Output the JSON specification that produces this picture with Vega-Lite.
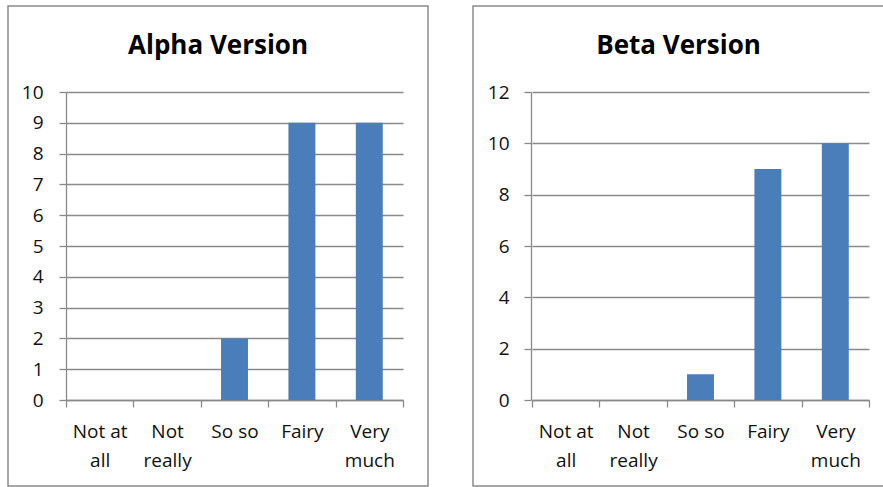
{
  "$schema": "https://vega.github.io/schema/vega-lite/v6.json",
  "padding": {"left": 7, "top": 5, "right": 0, "bottom": 0},
  "background": "white",
  "spacing": 43,
  "config": {
    "view": {"stroke": "#8a8a8a", "strokeWidth": 1.5},
    "font": "Open Sans",
    "axis": {
      "domainColor": "#8a8a8a",
      "domainWidth": 1.3,
      "tickColor": "#8a8a8a",
      "tickWidth": 1.3,
      "tickSize": 7,
      "gridColor": "#8a8a8a",
      "gridWidth": 1.3,
      "gridOpacity": 1,
      "labelFont": "Open Sans",
      "labelFontSize": 19,
      "labelColor": "#111111",
      "title": null
    },
    "title": {"font": "Open Sans", "fontSize": 26, "fontWeight": "bold", "color": "#000000", "anchor": "middle", "frame": "group", "baseline": "alphabetic", "offset": -53}
  },
  "datasets": {
    "alpha": [
      {"answer": "Not at all", "count": 0},
      {"answer": "Not really", "count": 0},
      {"answer": "So so", "count": 2},
      {"answer": "Fairy", "count": 9},
      {"answer": "Very much", "count": 9}
    ],
    "beta": [
      {"answer": "Not at all", "count": 0},
      {"answer": "Not really", "count": 0},
      {"answer": "So so", "count": 1},
      {"answer": "Fairy", "count": 9},
      {"answer": "Very much", "count": 10}
    ]
  },
  "hconcat": [
    {
      "title": "Alpha Version",
      "width": 420,
      "height": 480,
      "data": {"name": "alpha"},
      "mark": {"type": "bar", "color": "#4a7ebb", "width": {"band": 0.4}},
      "encoding": {
        "x": {
          "field": "answer", "type": "nominal", "sort": null,
          "scale": {"type": "band", "range": [58, 395], "paddingInner": 0, "paddingOuter": 0},
          "axis": {"offset": -86, "labelAngle": 0, "tickBand": "extent", "labelPadding": 15, "labelLineHeight": 29, "labelBaseline": "top",
                   "labelExpr": "datum.value == 'Not at all' ? ['Not at','all'] : datum.value == 'Not really' ? ['Not','really'] : datum.value == 'Very much' ? ['Very','much'] : datum.value"}
        },
        "y": {
          "field": "count", "type": "quantitative",
          "scale": {"domain": [0, 10], "range": [394, 86], "nice": false},
          "axis": {"offset": -58, "values": [0,1,2,3,4,5,6,7,8,9,10], "grid": true, "labelPadding": 16}
        }
      }
    },
    {
      "title": "Beta Version",
      "width": 411,
      "height": 480,
      "data": {"name": "beta"},
      "mark": {"type": "bar", "color": "#4a7ebb", "width": {"band": 0.4}},
      "encoding": {
        "x": {
          "field": "answer", "type": "nominal", "sort": null,
          "scale": {"type": "band", "range": [59, 396], "paddingInner": 0, "paddingOuter": 0},
          "axis": {"offset": -86, "labelAngle": 0, "tickBand": "extent", "labelPadding": 15, "labelLineHeight": 29, "labelBaseline": "top",
                   "labelExpr": "datum.value == 'Not at all' ? ['Not at','all'] : datum.value == 'Not really' ? ['Not','really'] : datum.value == 'Very much' ? ['Very','much'] : datum.value"}
        },
        "y": {
          "field": "count", "type": "quantitative",
          "scale": {"domain": [0, 12], "range": [394, 86], "nice": false},
          "axis": {"offset": -58, "values": [0,2,4,6,8,10,12], "grid": true, "labelPadding": 15}
        }
      }
    }
  ]
}
